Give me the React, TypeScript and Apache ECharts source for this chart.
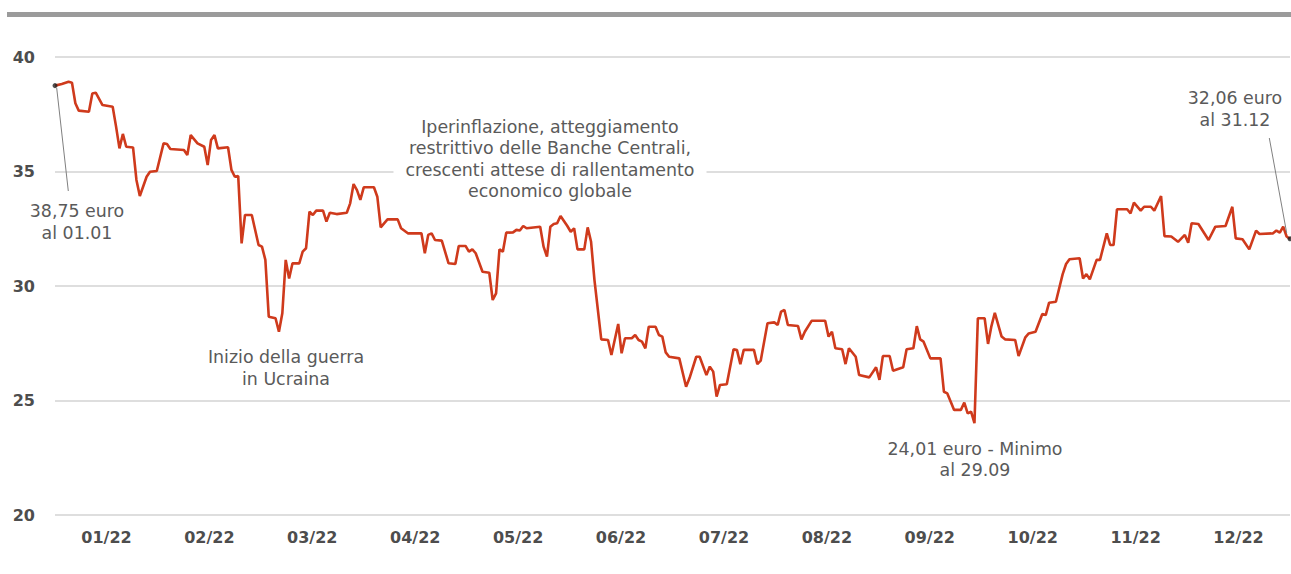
import React, { useEffect, useRef } from "react";
import * as echarts from "echarts";

// Month tick labels (placed at month centres)
const monthLabels = ["01/22", "02/22", "03/22", "04/22", "05/22", "06/22", "07/22", "08/22", "09/22", "10/22", "11/22", "12/22"];

// Y axis range / ticks
const yMin = 20;
const yMax = 40;
const yStep = 5;

// [day of year (0 = 1 Jan), price in euro]
const pricePoints: [number, number][] = [
  [0, 38.75], [2, 38.82], [4, 38.92], [5, 38.88], [6, 37.98], [7, 37.66], [10, 37.61], [11, 38.41], [12, 38.44], [14, 37.9],
  [17, 37.83], [18, 36.96], [19, 36.01], [20, 36.64], [21, 36.08], [23, 36.05], [24, 34.63], [25, 33.93], [27, 34.77], [28, 34.99],
  [30, 35.02], [32, 36.23], [33, 36.2], [34, 35.98], [38, 35.94], [39, 35.72], [40, 36.59], [42, 36.23], [44, 36.08], [45, 35.28],
  [46, 36.38], [47, 36.59], [48, 36.01], [51, 36.06], [52, 35.07], [53, 34.77], [54, 34.8], [55, 31.86], [56, 33.1], [58, 33.1],
  [60, 31.79], [61, 31.72], [62, 31.14], [63, 28.66], [65, 28.59], [66, 28.0], [67, 28.81], [68, 31.14], [69, 30.33], [70, 30.99],
  [72, 30.99], [73, 31.5], [74, 31.65], [75, 33.25], [76, 33.1], [77, 33.29], [79, 33.29], [80, 32.81], [81, 33.2], [83, 33.14],
  [86, 33.2], [87, 33.61], [88, 34.45], [89, 34.19], [90, 33.76], [91, 34.31], [94, 34.31], [95, 33.9], [96, 32.56], [98, 32.91],
  [101, 32.91], [102, 32.52], [104, 32.3], [108, 32.3], [109, 31.43], [110, 32.23], [111, 32.3], [112, 32.01], [114, 31.98], [116, 30.99],
  [118, 30.96], [119, 31.75], [121, 31.75], [122, 31.5], [123, 31.6], [124, 31.43], [126, 30.62], [128, 30.58], [129, 29.39], [130, 29.68],
  [131, 31.6], [132, 31.5], [133, 32.33], [135, 32.34], [136, 32.45], [137, 32.42], [138, 32.62], [139, 32.52], [143, 32.59], [144, 31.72],
  [145, 31.28], [146, 32.59], [147, 32.71], [148, 32.74], [149, 33.06], [151, 32.62], [152, 32.37], [153, 32.52], [154, 31.6], [156, 31.6],
  [157, 32.56], [158, 31.93], [159, 30.26], [161, 27.67], [163, 27.64], [164, 26.99], [166, 28.34], [167, 27.06], [168, 27.72], [170, 27.72],
  [171, 27.86], [172, 27.64], [173, 27.57], [174, 27.28], [175, 28.22], [177, 28.22], [178, 27.86], [179, 27.79], [180, 27.1], [181, 26.91],
  [184, 26.84], [186, 25.6], [187, 25.97], [189, 26.91], [190, 26.91], [192, 26.11], [193, 26.48], [194, 26.26], [195, 25.17], [196, 25.68],
  [198, 25.71], [200, 27.24], [201, 27.2], [202, 26.59], [203, 27.21], [206, 27.21], [207, 26.59], [208, 26.74], [210, 28.37], [212, 28.41],
  [213, 28.3], [214, 28.88], [215, 28.95], [216, 28.3], [219, 28.25], [220, 27.67], [221, 28.0], [223, 28.48], [227, 28.48], [228, 27.79],
  [229, 28.0], [230, 27.28], [232, 27.24], [233, 26.59], [234, 27.28], [236, 26.91], [237, 26.11], [240, 26.01], [242, 26.45], [243, 25.9],
  [244, 26.94], [246, 26.94], [247, 26.3], [250, 26.45], [251, 27.24], [253, 27.28], [254, 28.25], [255, 27.67], [256, 27.57], [258, 26.84],
  [261, 26.84], [262, 25.38], [263, 25.31], [265, 24.59], [267, 24.59], [268, 24.91], [269, 24.44], [270, 24.51], [271, 24.01], [272, 28.59],
  [274, 28.59], [275, 27.47], [276, 28.25], [277, 28.83], [279, 27.79], [280, 27.67], [283, 27.64], [284, 26.94], [286, 27.76], [287, 27.93],
  [289, 28.0], [291, 28.78], [292, 28.73], [293, 29.27], [295, 29.31], [297, 30.52], [298, 30.96], [299, 31.17], [302, 31.21], [303, 30.33],
  [304, 30.52], [305, 30.29], [307, 31.14], [308, 31.14], [310, 32.3], [311, 31.79], [312, 31.79], [313, 33.35], [316, 33.35], [317, 33.17],
  [318, 33.64], [320, 33.29], [321, 33.46], [323, 33.46], [324, 33.29], [326, 33.93], [327, 32.18], [329, 32.16], [331, 31.93], [333, 32.23],
  [334, 31.89], [335, 32.74], [337, 32.71], [340, 32.01], [342, 32.59], [345, 32.62], [347, 33.46], [348, 32.08], [350, 32.04], [352, 31.6],
  [354, 32.42], [355, 32.27], [359, 32.3], [360, 32.42], [361, 32.33], [362, 32.59], [363, 32.16], [364, 32.06],
];

// Highlighted endpoints
const endpointPoints: [number, number][] = [
  [0, 38.75],
  [364, 32.06],
];

// Annotation texts
const noteStart = "38,75 euro\nal 01.01";
const noteWar = "Inizio della guerra\nin Ucraina";
const noteMacro = "Iperinflazione, atteggiamento\nrestrittivo delle Banche Centrali,\ncrescenti attese di rallentamento\neconomico globale";
const noteMin = "24,01 euro - Minimo\nal 29.09";
const noteEnd = "32,06 euro\nal 31.12";

const FONT = "'DejaVu Sans', sans-serif";

function noteText(text: string, x: number, y: number, extra: any = {}) {
  return {
    type: "text",
    z: 20,
    style: {
      text,
      x,
      y,
      fill: "#5a5a5a",
      font: `17.4px ${FONT}`,
      lineHeight: 21.5,
      align: "center",
      verticalAlign: "middle",
      textAlign: "center",
      textVerticalAlign: "middle",
      ...extra,
    },
  };
}

export default function App() {
  const ref = useRef<HTMLDivElement>(null);

  useEffect(() => {
    document.body.style.margin = "0";
    const chart = echarts.init(ref.current!, null, { renderer: "svg" });
    chart.setOption({
      animation: false,
      backgroundColor: "#ffffff",
      grid: { left: 55, right: 1, top: 57, bottom: 59, containLabel: false },
      xAxis: [
        { type: "value", min: 0, max: 364, show: false },
        {
          type: "category",
          data: monthLabels,
          boundaryGap: true,
          position: "bottom",
          axisLine: { show: false },
          axisTick: { show: false },
          splitLine: { show: false },
          axisLabel: {
            margin: 14,
            color: "#4d4d4d",
            fontFamily: FONT,
            fontSize: 16,
            fontWeight: "bold",
          },
        },
      ],
      yAxis: {
        type: "value",
        min: yMin,
        max: yMax,
        interval: yStep,
        axisLine: { show: false },
        axisTick: { show: false },
        axisLabel: {
          margin: 20,
          color: "#4d4d4d",
          fontFamily: FONT,
          fontSize: 16,
          fontWeight: "bold",
        },
        splitLine: { lineStyle: { color: "#d3d3d3", width: 1.5 } },
      },
      series: [
        {
          type: "line",
          xAxisIndex: 0,
          data: pricePoints,
          showSymbol: false,
          symbol: "none",
          lineStyle: { color: "#cf3a1c", width: 2.6 },
          z: 3,
        },
        {
          type: "scatter",
          xAxisIndex: 0,
          data: endpointPoints,
          symbolSize: 5,
          itemStyle: { color: "#222222" },
          z: 4,
        },
      ],
      graphic: [
        { type: "rect", shape: { x: 7, y: 12, width: 1284, height: 5 }, style: { fill: "#9b9b9b" } },
        { type: "line", z: 15, shape: { x1: 56.7, y1: 88, x2: 68.3, y2: 191 }, style: { stroke: "#808080", lineWidth: 1 } },
        { type: "line", z: 15, shape: { x1: 1269.3, y1: 138, x2: 1286.7, y2: 233 }, style: { stroke: "#808080", lineWidth: 1 } },
        noteText(noteStart, 77, 222),
        noteText(noteWar, 286, 368),
        noteText(noteMacro, 550, 159, { backgroundColor: "#ffffff", padding: [2, 12] }),
        noteText(noteMin, 975, 459.5),
        noteText(noteEnd, 1235, 109),
      ],
    });
    return () => chart.dispose();
  }, []);

  return <div ref={ref} style={{ width: 1291, height: 574 }} />;
}
